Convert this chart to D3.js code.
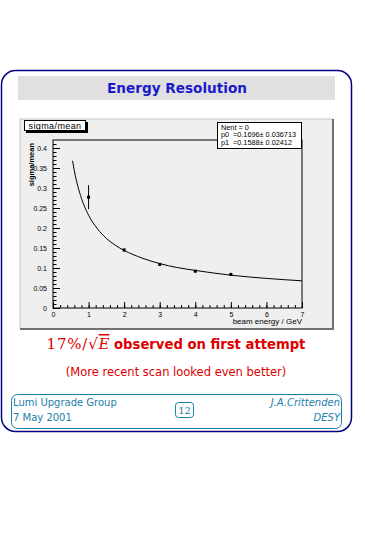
<!DOCTYPE html>
<html>
<head>
<meta charset="utf-8">
<script src="https://cdn.jsdelivr.net/npm/d3@7"></script>
<style>
  body { margin: 0; background: #fff; }
  svg { display: block; }
  .tick text { font-family: "Liberation Sans", Arial, sans-serif; font-size: 7px; }
</style>
</head>
<body>
<div id="slide"></div>
<script>
// measured points (beam energy in GeV, relative resolution)
var energies = [1, 2, 3, 4, 5];
var sigmaOverMean = [0.277, 0.145, 0.109, 0.092, 0.084];
var sigmaErrors = [0.030, 0.004, 0.003, 0.003, 0.003];

// fitted curve
var fitEnergies = [0.55, 0.6, 0.7, 0.8, 0.9, 1.0, 1.25, 1.5, 1.75, 2, 2.5, 3, 3.5, 4, 5, 6, 7];
var fitSigma = [0.368, 0.343, 0.304, 0.274, 0.251, 0.232, 0.198, 0.174, 0.157, 0.144, 0.125, 0.111, 0.101, 0.094, 0.082, 0.074, 0.068];

var xTicks = [0, 1, 2, 3, 4, 5, 6, 7];
var yTicks = [0, 0.05, 0.1, 0.15, 0.2, 0.25, 0.3, 0.35, 0.4];
var yTickLabels = ["0", "0.05", "0.1", "0.15", "0.2", "0.25", "0.3", "0.35", "0.4"];
var statLabels = ["Nent = 0", "p0", "p1"];
var statValues = ["", "=0.1696\u00b1 0.036713", "=0.1588\u00b1 0.02412"];

var W = 365, H = 535;
var svg = d3.select("#slide").append("svg").attr("width", W).attr("height", H);

//slide frame
svg.append("rect")
  .attr("x", 1.5).attr("y", 70.5).attr("width", 350).attr("height", 361)
  .attr("rx", 14).attr("ry", 14)
  .attr("fill", "none").attr("stroke", "#000080").attr("stroke-width", 1.5);

//title band
svg.append("rect")
  .attr("x", 18).attr("y", 76).attr("width", 317).attr("height", 24)
  .attr("fill", "#e0e0e0");
svg.append("text")
  .attr("x", 177).attr("y", 93)
  .attr("text-anchor", "middle")
  .attr("font-family", "DejaVu Sans, Verdana, sans-serif")
  .attr("font-weight", "bold").attr("font-size", 13.6)
  .attr("fill", "#1a1acc")
  .text("Energy Resolution");

//root canvas
var canvas = {x: 20, y: 119, w: 313, h: 210};
svg.append("rect")
  .attr("x", canvas.x).attr("y", canvas.y).attr("width", canvas.w).attr("height", canvas.h)
  .attr("fill", "#efefef");
svg.append("path")
  .attr("d", "M" + canvas.x + "," + (canvas.y + canvas.h) + "V" + canvas.y + "H" + (canvas.x + canvas.w))
  .attr("fill", "none").attr("stroke", "#c4c4c4").attr("stroke-width", 1);
svg.append("path")
  .attr("d", "M" + canvas.x + "," + (canvas.y + canvas.h) + "H" + (canvas.x + canvas.w) + "V" + canvas.y)
  .attr("fill", "none").attr("stroke", "#707070").attr("stroke-width", 2);

var margin = {left: 53, top: 140, right: 302, bottom: 308};
var x = d3.scaleLinear().domain([0, 7]).range([margin.left, margin.right]);
var y = d3.scaleLinear().domain([0, 0.42]).range([margin.bottom, margin.top]);

var g = svg.append("g");

//frame
g.append("rect")
  .attr("x", margin.left).attr("y", margin.top)
  .attr("width", margin.right - margin.left).attr("height", margin.bottom - margin.top)
  .attr("fill", "none").attr("stroke", "#000").attr("stroke-width", 1);

//minor ticks
var xMinor = d3.range(0, 7.001, 0.2);
var yMinor = d3.range(0, 0.42, 0.01);
g.append("g")
  .attr("transform", "translate(0," + margin.bottom + ")")
  .call(d3.axisBottom(x).tickValues(xMinor).tickSize(-3).tickFormat(""))
  .call(function(s) { s.select(".domain").remove(); });
g.append("g")
  .attr("transform", "translate(" + margin.left + ",0)")
  .call(d3.axisLeft(y).tickValues(yMinor).tickSize(-3.5).tickFormat(""))
  .call(function(s) { s.select(".domain").remove(); });

//major ticks and labels
g.append("g")
  .attr("transform", "translate(0," + margin.bottom + ")")
  .call(d3.axisBottom(x).tickValues(xTicks).tickSize(-6).tickPadding(4).tickFormat(d3.format("d")))
  .call(function(s) { s.select(".domain").remove(); });
g.append("g")
  .attr("transform", "translate(" + margin.left + ",0)")
  .call(d3.axisLeft(y).tickValues(yTicks).tickSize(-7).tickPadding(6)
    .tickFormat(function(d, i) { return yTickLabels[i]; }))
  .call(function(s) { s.select(".domain").remove(); });

//axis titles
svg.append("text")
  .attr("x", margin.right).attr("y", 324)
  .attr("text-anchor", "end")
  .attr("font-family", "Liberation Sans, Arial, sans-serif").attr("font-size", 8)
  .text("beam energy / GeV");
svg.append("text")
  .attr("transform", "translate(34,143) rotate(-90)")
  .attr("text-anchor", "end")
  .attr("font-family", "Liberation Sans, Arial, sans-serif").attr("font-size", 7.5)
  .attr("font-weight", "bold")
  .text("sigma/mean");

//fit curve
var line = d3.line()
  .x(function(d, i) { return x(fitEnergies[i]); })
  .y(function(d) { return y(d); })
  .curve(d3.curveMonotoneX);
g.append("path")
  .datum(fitSigma)
  .attr("d", line)
  .attr("fill", "none").attr("stroke", "#000").attr("stroke-width", 1);

//data points with errors
var pts = g.selectAll(".pt").data(energies).enter().append("g").attr("class", "pt");
pts.append("line")
  .attr("x1", function(d) { return x(d); }).attr("x2", function(d) { return x(d); })
  .attr("y1", function(d, i) { return y(sigmaOverMean[i] - sigmaErrors[i]); })
  .attr("y2", function(d, i) { return y(sigmaOverMean[i] + sigmaErrors[i]); })
  .attr("stroke", "#000").attr("stroke-width", 1);
pts.append("rect")
  .attr("x", function(d) { return x(d) - 1.5; })
  .attr("y", function(d, i) { return y(sigmaOverMean[i]) - 1.5; })
  .attr("width", 3).attr("height", 3)
  .attr("fill", "#000");

//histogram title box
svg.append("rect").attr("x", 26).attr("y", 122).attr("width", 62).attr("height", 11).attr("fill", "#000");
svg.append("rect").attr("x", 24.5).attr("y", 120.5).attr("width", 61).attr("height", 10)
  .attr("fill", "#fff").attr("stroke", "#000").attr("stroke-width", 1);
svg.append("text")
  .attr("x", 55).attr("y", 128.8).attr("text-anchor", "middle")
  .attr("font-family", "Liberation Sans, Arial, sans-serif").attr("font-size", 9)
  .attr("letter-spacing", 0.4)
  .text("sigma/mean");

//stats box
svg.append("rect").attr("x", 217.5).attr("y", 122.5).attr("width", 84).attr("height", 26)
  .attr("fill", "#fff").attr("stroke", "#000").attr("stroke-width", 1);
var stats = svg.append("g")
  .attr("font-family", "Liberation Sans, Arial, sans-serif").attr("font-size", 7.3);
stats.selectAll(".lab").data(statLabels).enter().append("text")
  .attr("x", 221).attr("y", function(d, i) { return 129.8 + i * 7.5; })
  .text(function(d) { return d; });
stats.selectAll(".val").data(statValues).enter().append("text")
  .attr("x", 233).attr("y", function(d, i) { return 129.8 + i * 7.5; })
  .text(function(d) { return d; });

//conclusion text
var red = "#dd0000";
var main = svg.append("text")
  .attr("x", 176).attr("y", 349).attr("text-anchor", "middle")
  .attr("fill", red).attr("font-size", 15);
main.append("tspan").attr("font-family", "DejaVu Serif, serif").attr("letter-spacing", 0.8).text("17%/\u221a");
main.append("tspan").attr("font-family", "DejaVu Serif, serif").attr("font-style", "italic")
  .style("text-decoration", "overline").text("E");
main.append("tspan").attr("font-family", "DejaVu Sans, Verdana, sans-serif").attr("font-weight", "bold")
  .attr("font-size", 13.2).text(" observed on first attempt");

svg.append("text")
  .attr("x", 176).attr("y", 376).attr("text-anchor", "middle")
  .attr("fill", red)
  .attr("font-family", "DejaVu Sans, Verdana, sans-serif").attr("font-size", 11.5)
  .text("(More recent scan looked even better)");

//footer
var teal = "#1a7ea6";
svg.append("rect").attr("x", 11.5).attr("y", 394.5).attr("width", 330).attr("height", 34)
  .attr("rx", 6).attr("fill", "none").attr("stroke", teal).attr("stroke-width", 1);
var foot = svg.append("g").attr("fill", teal)
  .attr("font-family", "DejaVu Sans, Verdana, sans-serif").attr("font-size", 10);
foot.append("text").attr("x", 13).attr("y", 406).text("Lumi Upgrade Group");
foot.append("text").attr("x", 13).attr("y", 421).text("7 May 2001");
foot.append("text").attr("x", 340).attr("y", 406).attr("text-anchor", "end").attr("font-style", "italic").text("J.A.Crittenden");
foot.append("text").attr("x", 340).attr("y", 421).attr("text-anchor", "end").attr("font-style", "italic").text("DESY");
svg.append("rect").attr("x", 175.5).attr("y", 402.5).attr("width", 18).attr("height", 15)
  .attr("rx", 3).attr("fill", "none").attr("stroke", teal).attr("stroke-width", 1);
foot.append("text").attr("x", 184.5).attr("y", 414).attr("text-anchor", "middle")
  .attr("font-family", "DejaVu Serif, serif").text("12");
</script>
</body>
</html>
